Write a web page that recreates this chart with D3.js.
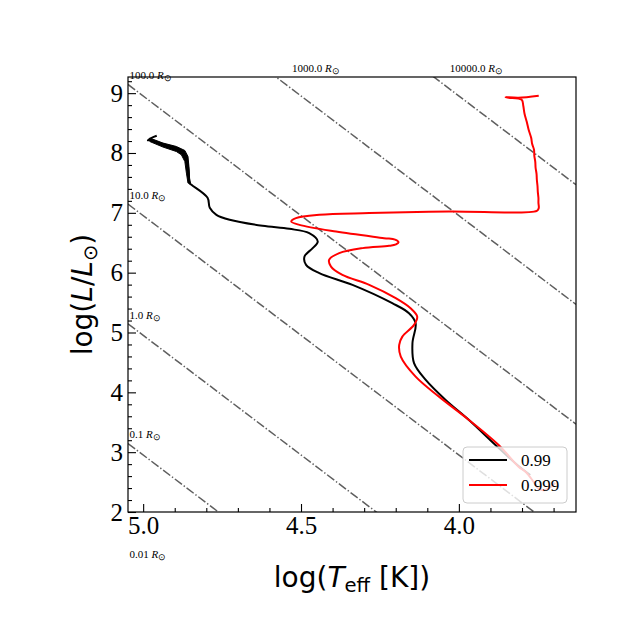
<!DOCTYPE html>
<html>
<head>
<meta charset="utf-8">
<script src="https://cdn.jsdelivr.net/npm/d3@7"></script>
<style>
    body { margin: 0; background: #fff; }
</style>
</head>
<body>
<div id="chart"></div>
<script>
// tracks (log Teff, log L)
const blackLogT = [3.774, 3.811, 3.884, 3.968, 4.042, 4.105, 4.142, 4.147, 4.137, 4.158, 4.211, 4.337, 4.442, 4.484, 4.489, 4.463, 4.447, 4.474, 4.537, 4.622, 4.726, 4.768, 4.789, 4.796, 4.847, 4.854,
    4.856, 4.860, 4.867, 4.887, 4.916, 4.947, 4.979, 4.985, 4.973, 4.957]
const blackLogL = [2.619, 2.769, 3.120, 3.538, 3.873, 4.207, 4.487, 4.821, 5.156, 5.323, 5.490, 5.796, 5.992, 6.130, 6.269, 6.410, 6.520, 6.661, 6.732, 6.783, 6.883, 6.967, 7.084, 7.251, 7.468, 7.502,
    7.686, 7.853, 7.970, 8.070, 8.112, 8.162, 8.216, 8.212, 8.254, 8.288]

// envelope of the fast oscillating stretch of the 0.99 track
const bandUpperT = [4.979, 4.937, 4.895, 4.868, 4.858, 4.855, 4.853, 4.850]
const bandUpperL = [8.249, 8.166, 8.109, 8.042, 7.941, 7.774, 7.580, 7.497]
const bandLowerT = [4.979, 4.937, 4.895, 4.879, 4.868, 4.863, 4.858]
const bandLowerL = [8.192, 8.099, 8.025, 7.970, 7.858, 7.664, 7.497]

const redLogT = [3.695, 3.726, 3.747, 3.763, 3.788, 3.811, 3.874, 3.968, 4.063, 4.137, 4.184, 4.189, 4.179, 4.142, 4.132, 4.153, 4.200, 4.284, 4.369, 4.405, 4.411, 4.379, 4.305, 4.221, 4.199, 4.191, 4.202, 4.237, 4.389, 4.505, 4.531, 4.516, 4.442, 4.284, 4.032, 3.753,
    3.747, 3.748, 3.748, 3.750, 3.751, 3.753, 3.754, 3.757, 3.758, 3.761, 3.762, 3.768, 3.771, 3.779, 3.785, 3.792, 3.796, 3.801, 3.842, 3.852, 3.811, 3.747]
const redLogL = [2.485, 2.368, 2.385, 2.502, 2.669, 2.758, 3.120, 3.538, 3.928, 4.263, 4.597, 4.793, 4.931, 5.127, 5.266, 5.406, 5.574, 5.796, 5.963, 6.102, 6.214, 6.326, 6.410, 6.448, 6.473, 6.507, 6.552, 6.577, 6.687, 6.799, 6.855, 6.911, 6.967, 6.995, 7.022, 7.033,
    7.079, 7.167, 7.251, 7.351, 7.452, 7.552, 7.652, 7.753, 7.853, 7.953, 8.054, 8.154, 8.254, 8.388, 8.522, 8.656, 8.789, 8.890, 8.923, 8.932, 8.923, 8.957]

const seriesNames = ["0.99", "0.999"]
const seriesColors = ["#000000", "#ff0000"]

// constant radius lines (solar radii)
const radii = [0.01, 0.1, 1.0, 10.0, 100.0, 1000.0, 10000.0]
const radiusLabels = ["0.01", "0.1", "1.0", "10.0", "100.0", "1000.0", "10000.0"]
const logTsun = 3.7617

const xMajorTicks = [5.0, 4.5, 4.0]
const yMajorTicks = [2, 3, 4, 5, 6, 7, 8, 9]

const serif = `"Liberation Serif"`
const sans = `"DejaVu Sans"`

const width = 640
const height = 640
const margin = {top: 77, right: 64, bottom: 128, left: 128}

const x = d3.scaleLinear()
    .domain([5.048, 3.629])
    .range([margin.left, width - margin.right])

const y = d3.scaleLinear()
    .domain([2, 9.27])
    .range([height - margin.bottom, margin.top])

const $svg = d3.select("#chart").append("svg")
    .attr("width", width)
    .attr("height", height)

$svg.append("clipPath")
    .attr("id", "plot-clip")
    .append("rect")
    .attr("x", margin.left)
    .attr("y", margin.top)
    .attr("width", width - margin.left - margin.right)
    .attr("height", height - margin.top - margin.bottom)

const $plot = $svg.append("g").attr("clip-path", "url(#plot-clip)")

//radius lines: log L = 2 log R + 4 (log T - log Tsun)
const radiusL = (r, t) => 2 * Math.log10(r) + 4 * (t - logTsun)
const [tLeft, tRight] = x.domain()
const yTop = y.domain()[1]

$plot.selectAll(".radius")
    .data(radii)
    .enter().append("line")
    .attr("class", "radius")
    .attr("x1", x(tLeft))
    .attr("y1", r => y(radiusL(r, tLeft)))
    .attr("x2", x(tRight))
    .attr("y2", r => y(radiusL(r, tRight)))
    .attr("stroke", "#5f5f5f")
    .attr("stroke-width", 1.5)
    .attr("stroke-dasharray", "8.9,2.2,1.4,2.2")

const $rLabels = $svg.selectAll(".rlabel")
    .data(radii)
    .enter().append("text")
    .attr("class", "rlabel")
    .style("font-family", serif)
    .attr("font-size", 11)
    .attr("x", r => {
        if (radiusL(r, tLeft) <= yTop) return x(tLeft) + 1.5
        const tCross = (yTop - 2 * Math.log10(r)) / 4 + logTsun
        return x(tCross) + 16
    })
    .attr("y", r => radiusL(r, tLeft) <= yTop ? y(radiusL(r, tLeft)) - 5 : y(yTop) - 5)

$rLabels.append("tspan").text((r, i) => radiusLabels[i] + " ")
$rLabels.append("tspan").attr("font-style", "italic").text("R")
$rLabels.append("tspan").attr("font-size", 9).attr("dy", 2).text("⊙")

//tracks
const line = d3.line()
    .x(d => x(d[0]))
    .y(d => y(d[1]))
    .curve(d3.curveCatmullRom.alpha(0.5))

const band = d3.zip(bandUpperT, bandUpperL).concat(d3.zip(bandLowerT, bandLowerL).reverse())

$plot.append("path")
    .attr("d", d3.line().x(d => x(d[0])).y(d => y(d[1])).curve(d3.curveLinearClosed)(band))
    .attr("fill", seriesColors[0])
    .attr("stroke", seriesColors[0])
    .attr("stroke-width", 1)
    .attr("stroke-linejoin", "round")

const tracks = [
    d3.zip(blackLogT, blackLogL),
    d3.zip(redLogT, redLogL)
]

$plot.selectAll(".track")
    .data(tracks)
    .enter().append("path")
    .attr("class", "track")
    .attr("d", line)
    .attr("fill", "none")
    .attr("stroke", (d, i) => seriesColors[i])
    .attr("stroke-width", 2)
    .attr("stroke-linejoin", "round")

//axes, ticks pointing in
const xMinorTicks = d3.range(3.7, 5.05, 0.1).map(d => +d.toFixed(1)).filter(d => !xMajorTicks.includes(d))
const yMinorTicks = d3.range(2.2, 9.27, 0.2).map(d => +d.toFixed(1)).filter(d => !yMajorTicks.includes(d))

const xAxis = g => g.attr("transform", `translate(0, ${y(2)})`)
    .call(d3.axisBottom(x).tickValues(xMajorTicks).tickSize(-8).tickPadding(4.5).tickFormat(d3.format(".1f")))
    .call(g => g.select(".domain").remove())

const xMinor = g => g.attr("transform", `translate(0, ${y(2)})`)
    .call(d3.axisBottom(x).tickValues(xMinorTicks).tickSize(-4).tickFormat(""))
    .call(g => g.select(".domain").remove())

const yAxis = g => g.attr("transform", `translate(${x(tLeft)}, 0)`)
    .call(d3.axisLeft(y).tickValues(yMajorTicks).tickSize(-8).tickPadding(5).tickFormat(d3.format("d")))
    .call(g => g.select(".domain").remove())

const yMinor = g => g.attr("transform", `translate(${x(tLeft)}, 0)`)
    .call(d3.axisLeft(y).tickValues(yMinorTicks).tickSize(-4).tickFormat(""))
    .call(g => g.select(".domain").remove())

$svg.append("g").call(xAxis).attr("font-family", null)
$svg.append("g").call(xMinor)
$svg.append("g").call(yAxis).attr("font-family", null)
$svg.append("g").call(yMinor)

$svg.selectAll(".tick text")
    .style("font-family", serif)
    .attr("font-size", 25)
    .attr("fill", "#000")
$svg.selectAll(".tick line")
    .attr("stroke", "#000")
    .attr("stroke-width", 1.1)

$svg.append("rect")
    .attr("x", margin.left)
    .attr("y", margin.top)
    .attr("width", width - margin.left - margin.right)
    .attr("height", height - margin.top - margin.bottom)
    .attr("fill", "none")
    .attr("stroke", "#000")
    .attr("stroke-width", 1.2)

//axis labels
const $xLabel = $svg.append("text")
    .style("font-family", sans)
    .attr("x", (margin.left + width - margin.right) / 2)
    .attr("y", 587)
    .attr("text-anchor", "middle")
    .attr("font-size", 28)
$xLabel.append("tspan").text("log(")
$xLabel.append("tspan").attr("font-style", "italic").text("T")
$xLabel.append("tspan").attr("font-size", 19.6).attr("dy", 5).text("eff")
$xLabel.append("tspan").attr("dy", -5).text(" [K])")

const $yLabel = $svg.append("text")
    .style("font-family", sans)
    .attr("transform", `translate(92, ${(margin.top + height - margin.bottom) / 2}) rotate(-90)`)
    .attr("text-anchor", "middle")
    .attr("font-size", 28)
$yLabel.append("tspan").text("log(")
$yLabel.append("tspan").attr("font-style", "italic").text("L")
$yLabel.append("tspan").text("/")
$yLabel.append("tspan").attr("font-style", "italic").text("L")
$yLabel.append("tspan").attr("font-size", 19.6).attr("dy", 5).text("⊙")
$yLabel.append("tspan").attr("dy", -5).text(")")

//legend, lower right
const legendW = 104
const legendH = 56
const legendX = width - margin.right - 9 - legendW
const legendY = height - margin.bottom - 9 - legendH

const $legend = $svg.append("g")
    .attr("transform", `translate(${legendX}, ${legendY})`)

$legend.append("rect")
    .attr("width", legendW)
    .attr("height", legendH)
    .attr("rx", 4)
    .attr("fill", "#fff")
    .attr("fill-opacity", 0.8)
    .attr("stroke", "#cccccc")
    .attr("stroke-width", 1)

const $items = $legend.selectAll(".item")
    .data(seriesNames)
    .enter().append("g")
    .attr("class", "item")
    .attr("transform", (d, i) => `translate(0, ${13 + i * 25})`)

$items.append("line")
    .attr("x1", 6)
    .attr("x2", 44)
    .attr("stroke", (d, i) => seriesColors[i])
    .attr("stroke-width", 2)

$items.append("text")
    .style("font-family", serif)
    .attr("x", 58)
    .attr("dy", "0.35em")
    .attr("font-size", 17)
    .text(d => d)
</script>
</body>
</html>
